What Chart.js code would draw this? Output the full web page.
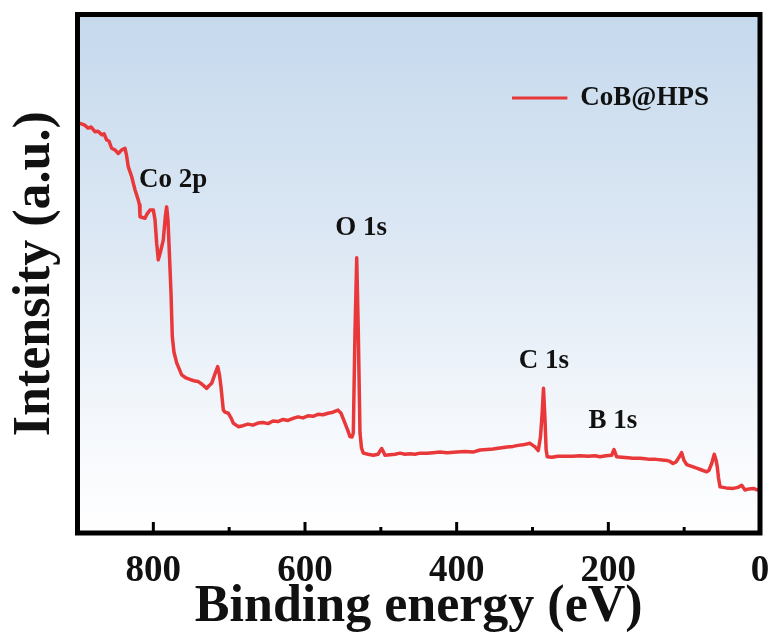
<!DOCTYPE html>
<html>
<head>
<meta charset="utf-8">
<script src="https://cdn.jsdelivr.net/npm/chart.js@4.4.1/dist/chart.umd.min.js"></script>
<style>
html,body{margin:0;padding:0;background:#ffffff;}
#wrap{width:774px;height:634px;}
</style>
</head>
<body>
<div id="wrap"><canvas id="c" width="774" height="634"></canvas></div>
<script>
// ---- data (binding energy in eV, intensity in a.u.) ----
const bindingEnergy = [
  897, 891, 886, 882, 877, 873, 868, 865, 861.5, 858.5,
  855, 850.6, 846.2, 841.7, 837.4, 835.4, 833, 828.5, 826.8, 824.2,
  819.8, 818.3, 817.6, 811, 808.4, 804.4, 800, 797.8, 795.6, 793.5,
  790.6, 786.9, 784, 782.4, 780.7, 779.4, 776.7, 775, 772.8, 769.2,
  762.6, 756.9, 749.4, 745.1, 740.7, 735.8, 729.6, 726.6, 723, 718.7,
  715.1, 712.8, 710.8, 707.7, 705.5, 701.2, 697.6, 694.6, 688, 681.8,
  675.2, 668.6, 662, 655.4, 648.8, 642.2, 635.6, 629, 622.4, 615.8,
  609.2, 602.6, 596.1, 589.5, 582.9, 576.3, 569.7, 563.1, 556.5, 552.5,
  547.3, 543.3, 540.7, 538, 536.3, 534.1, 531.8, 529.7, 527.5, 525.5,
  523.1, 516.9, 509.9, 503.7, 498.9, 497.1, 494.5, 487.9, 481.3, 474.7,
  468.1, 461.5, 454.9, 448.4, 439.1, 431.2, 422, 412.8, 399.6, 389,
  378.5, 369.2, 360, 352.1, 342.9, 333.6, 325.7, 319.1, 312.5, 303.3,
  296.7, 292.4, 289.5, 287.3, 285.5, 283.7, 282, 280.5, 274.3, 266.4,
  257.1, 246.6, 237.4, 226.8, 217.6, 211, 203.1, 195.6, 192.5, 189,
  182, 174.1, 167.5, 158.2, 151.7, 145.1, 137.1, 129.2, 123, 118.7,
  114.7, 110.8, 106.8, 103.3, 100.2, 96.7, 91, 83.5, 77.8, 70.3,
  67.3, 63.7, 60.3, 58, 56.3, 54.7, 52.7, 44.8, 35.2, 29,
  24.1, 19.8, 14.5, 8.8, 5.3, 2.2, 0
];
const intensity = [
  79.0, 78.7, 78.1, 78.3, 77.4, 77.5, 76.8, 77.0, 75.8, 75.6,
  74.2, 73.9, 73.2, 73.9, 74.2, 72.9, 70.6, 68.7, 67.7, 66.2,
  64.2, 63.3, 61.0, 60.7, 61.5, 62.3, 62.3, 60.4, 55.9, 52.7,
  54.2, 56.5, 61.3, 62.9, 60.4, 55.9, 46.3, 37.9, 34.9, 32.8,
  30.5, 29.9, 29.5, 29.3, 29.2, 28.7, 27.9, 28.4, 28.9, 30.7,
  32.1, 30.5, 28.2, 23.7, 23.3, 23.1, 22.2, 21.2, 20.5, 20.7,
  21.0, 20.8, 21.2, 21.3, 21.1, 21.6, 21.5, 21.9, 21.7, 22.1,
  22.4, 22.2, 22.6, 22.5, 22.9, 22.8, 23.1, 23.3, 23.7, 23.1,
  21.2, 19.7, 18.6, 18.5, 19.3, 38.6, 53.1, 38.6, 19.3, 16.4,
  15.4, 15.2, 15.0, 15.2, 16.3, 15.8, 15.0, 15.1, 15.2, 15.4,
  15.2, 15.3, 15.2, 15.4, 15.4, 15.5, 15.6, 15.5, 15.6, 15.7,
  15.6, 16.0, 16.1, 16.2, 16.4, 16.6, 16.7, 16.9, 17.0, 17.3,
  16.6, 15.9, 18.5, 23.0, 27.9, 22.5, 16.0, 14.7, 14.6, 14.8,
  14.8, 14.8, 14.9, 14.8, 14.9, 14.7, 14.9, 15.0, 16.1, 14.7,
  14.6, 14.5, 14.4, 14.4, 14.3, 14.2, 14.2, 14.1, 14.0, 13.8,
  13.4, 13.7, 14.6, 15.5, 14.0, 13.2, 12.9, 12.5, 12.2, 11.8,
  12.1, 13.4, 15.2, 14.1, 12.7, 10.6, 8.9, 8.7, 8.6, 8.8,
  9.2, 8.3, 8.5, 8.6, 8.4, 8.3, 8.7
];
const seriesName = 'CoB@HPS';
const xMajorTicks = [0, 200, 400, 600, 800];
const xMinorTicks = [100, 300, 500, 700];
const peakLabels = ['Co 2p', 'O 1s', 'C 1s', 'B 1s'];
const peakLabelEnergy = [774, 526, 285, 194];
const peakLabelIntensity = [66.7, 57.5, 31.8, 20.3];
// legend anchor (in axis units)
const legendLineEnergy = [327, 254];
const legendTextEnergy = 237;
const legendIntensity = 83.9;

const FONT = '"Liberation Serif", "Times New Roman", Times, serif';
const LINE_COLOR = '#e8383a';

const framePlugin = {
  id: 'frameAndNotes',
  beforeDatasetsDraw(chart) {
    const {ctx, chartArea: a} = chart;
    const g = ctx.createLinearGradient(0, a.top, 0, a.bottom);
    g.addColorStop(0, '#c5d9ed');
    g.addColorStop(0.45, '#dde8f4');
    g.addColorStop(0.8, '#f5f8fc');
    g.addColorStop(1, '#ffffff');
    ctx.save();
    ctx.fillStyle = g;
    ctx.fillRect(a.left, a.top, a.right - a.left, a.bottom - a.top);
    ctx.restore();
  },
  afterDraw(chart) {
    const {ctx, chartArea: a, scales} = chart;
    const x = scales.x, y = scales.y;
    ctx.save();
    // peak labels
    ctx.fillStyle = '#111111';
    ctx.font = 'bold 27px ' + FONT;
    ctx.textAlign = 'center';
    ctx.textBaseline = 'alphabetic';
    peakLabels.forEach((t, i) => {
      ctx.fillText(t, x.getPixelForValue(peakLabelEnergy[i]), y.getPixelForValue(peakLabelIntensity[i]));
    });
    // legend
    const ly = y.getPixelForValue(legendIntensity);
    ctx.strokeStyle = LINE_COLOR;
    ctx.lineWidth = 3;
    ctx.beginPath();
    ctx.moveTo(x.getPixelForValue(legendLineEnergy[0]), ly);
    ctx.lineTo(x.getPixelForValue(legendLineEnergy[1]), ly);
    ctx.stroke();
    ctx.textAlign = 'left';
    ctx.textBaseline = 'middle';
    ctx.fillText(seriesName, x.getPixelForValue(legendTextEnergy), ly);
    // inward tick marks
    ctx.strokeStyle = '#000000';
    ctx.lineWidth = 3;
    const tick = (v, len) => {
      const px = x.getPixelForValue(v);
      ctx.beginPath();
      ctx.moveTo(px, a.bottom);
      ctx.lineTo(px, a.bottom - len);
      ctx.stroke();
    };
    xMajorTicks.forEach(v => tick(v, 11));
    xMinorTicks.forEach(v => tick(v, 6));
    // frame
    ctx.lineWidth = 5;
    ctx.strokeRect(a.left, a.top, a.right - a.left, a.bottom - a.top);
    ctx.restore();
  }
};

new Chart(document.getElementById('c'), {
  type: 'line',
  data: {
    datasets: [{
      label: seriesName,
      data: bindingEnergy.map((e, i) => ({x: e, y: intensity[i]})),
      borderColor: LINE_COLOR,
      backgroundColor: LINE_COLOR,
      borderWidth: 3.5,
      pointRadius: 0,
      tension: 0,
      borderJoinStyle: 'round',
      borderCapStyle: 'round'
    }]
  },
  options: {
    responsive: false,
    animation: false,
    devicePixelRatio: 1,
    layout: {padding: {top: 14.5, right: 14, left: 0, bottom: 0}},
    plugins: {legend: {display: false}, tooltip: {enabled: false}},
    scales: {
      x: {
        type: 'linear',
        reverse: true,
        min: 0,
        max: 900,
        grid: {display: false, drawTicks: false},
        border: {display: false},
        afterBuildTicks: s => { s.ticks = xMajorTicks.map(v => ({value: v})); },
        ticks: {
          font: {family: FONT, size: 37, weight: 'bold'},
          color: '#111111',
          padding: 16,
          maxRotation: 0,
          autoSkip: false
        },
        title: {
          display: true,
          text: 'Binding energy (eV)',
          font: {family: FONT, size: 52, weight: 'bold', lineHeight: 1},
          color: '#111111',
          padding: {top: 0, bottom: 0}
        },
        afterFit: s => { s.height = 101; }
      },
      y: {
        min: 0,
        max: 100,
        grid: {display: false, drawTicks: false},
        border: {display: false},
        ticks: {display: false},
        title: {
          display: true,
          text: 'Intensity (a.u.)',
          font: {family: FONT, size: 52, weight: 'bold', lineHeight: 1},
          color: '#111111',
          padding: {top: 10, bottom: 0}
        },
        afterFit: s => { s.width = 77.5; }
      }
    }
  },
  plugins: [framePlugin]
});
</script>
</body>
</html>
